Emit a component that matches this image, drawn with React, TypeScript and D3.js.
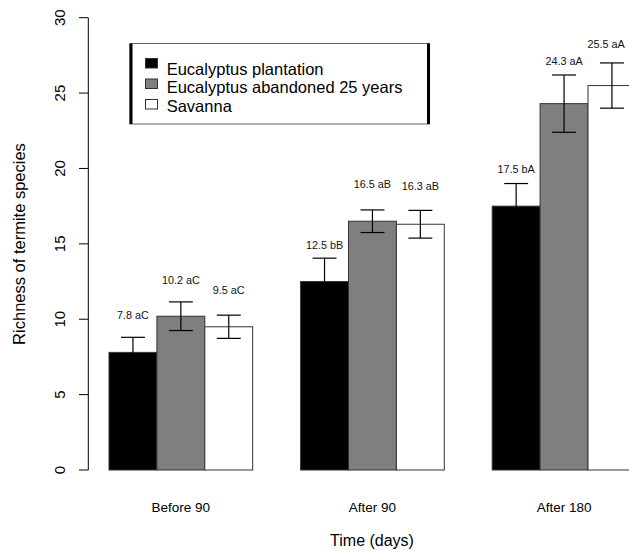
import React from "react";
import * as d3 from "d3";

const groups = ["Before 90", "After 90", "After 180"];
const series = ["Eucalyptus plantation", "Eucalyptus abandoned 25 years", "Savanna"];
const fills = ["#000000", "#7f7f7f", "#ffffff"];

// means per series across groups
const plantation = [7.8, 12.5, 17.5];
const abandoned = [10.2, 16.5, 24.3];
const savanna = [9.5, 16.3, 25.5];

// standard errors
const plantationSE = [1.0, 1.55, 1.5];
const abandonedSE = [0.95, 0.75, 1.9];
const savannaSE = [0.77, 0.92, 1.5];

// significance letters
const plantationLetters = ["aC", "bB", "bA"];
const abandonedLetters = ["aC", "aB", "aA"];
const savannaLetters = ["aC", "aB", "aA"];

// label heights (data units)
const plantationLabelAt = [10.02, 14.67, 19.7];
const abandonedLabelAt = [12.34, 18.69, 26.87];
const savannaLabelAt = [11.68, 18.54, 27.98];

const yTicks = [0, 5, 10, 15, 20, 25, 30];

const means = [plantation, abandoned, savanna];
const ses = [plantationSE, abandonedSE, savannaSE];
const letters = [plantationLetters, abandonedLetters, savannaLetters];
const labelAt = [plantationLabelAt, abandonedLabelAt, savannaLabelAt];

const FONT = "'Liberation Sans', Arial, Helvetica, sans-serif";

export default function App() {
  const W = 629;
  const H = 551;
  const y = d3.scaleLinear().domain([0, 30]).range([470, 17.7]);
  const x = d3
    .scaleBand<string>()
    .domain(groups)
    .range([109, 109 + 3 * 191.6 - 47.9])
    .paddingInner(0.25)
    .paddingOuter(0);
  const xi = d3
    .scaleBand<string>()
    .domain(series)
    .range([0, x.bandwidth()]);
  const bw = xi.bandwidth();
  const axisX = 88.3;
  const labFs = 10.8;

  const bars: any[] = [];
  groups.forEach((g, gi) => {
    series.forEach((s, si) => {
      bars.push({
        g,
        s,
        si,
        v: means[si][gi],
        se: ses[si][gi],
        lab: `${means[si][gi].toFixed(1)} ${letters[si][gi]}`,
        labY: labelAt[si][gi],
      });
    });
  });

  const legX = 130;
  const legY = 43.5;
  const legW = 299.5;
  const legH = 80.5;

  return (
    <svg
      width={W}
      height={H}
      style={{ position: "absolute", left: 0, top: 0, background: "#fff" }}
      fontFamily={FONT}
    >
      <rect x={0} y={0} width={W} height={H} fill="#fff" />
      {/* bars */}
      {bars.map((b, i) => {
        const x0 = (x(b.g) as number) + (xi(b.s) as number);
        return (
          <rect
            key={"b" + i}
            x={x0}
            y={y(b.v)}
            width={bw}
            height={y(0) - y(b.v)}
            fill={fills[b.si]}
            stroke="#333"
            strokeWidth={1}
          />
        );
      })}
      {/* error bars */}
      {bars.map((b, i) => {
        const cx = (x(b.g) as number) + (xi(b.s) as number) + bw / 2;
        const hw = bw / 4;
        const yt = y(b.v + b.se);
        const yb = y(b.v - b.se);
        return (
          <g key={"e" + i} stroke="#000" strokeWidth={1.2} fill="none">
            <line x1={cx} x2={cx} y1={yt} y2={yb} />
            <line x1={cx - hw} x2={cx + hw} y1={yt} y2={yt} />
            <line x1={cx - hw} x2={cx + hw} y1={yb} y2={yb} />
          </g>
        );
      })}
      {/* value labels */}
      {bars.map((b, i) => {
        const cx = (x(b.g) as number) + (xi(b.s) as number) + bw / 2;
        const half = (b.lab.length * 0.5 * labFs) / 2;
        const lx = Math.min(cx, W - 4 - half);
        return (
          <text
            key={"l" + i}
            x={lx}
            y={y(b.labY)}
            textAnchor="middle"
            fontSize={labFs}
            fill="#111"
          >
            {b.lab}
          </text>
        );
      })}
      {/* y axis */}
      <line x1={axisX} x2={axisX} y1={y(30)} y2={y(0)} stroke="#000" strokeWidth={1} />
      {yTicks.map((t) => (
        <g key={"t" + t}>
          <line x1={79} x2={axisX} y1={y(t)} y2={y(t)} stroke="#000" strokeWidth={1} />
          <text
            transform={`translate(65,${y(t)}) rotate(-90)`}
            textAnchor="middle"
            fontSize={15}
            fill="#000"
          >
            {t}
          </text>
        </g>
      ))}
      <text
        transform={`translate(25,244) rotate(-90)`}
        textAnchor="middle"
        fontSize={16.5}
        fill="#000"
      >
        Richness of termite species
      </text>
      {/* x labels */}
      {groups.map((g) => (
        <text
          key={"x" + g}
          x={(x(g) as number) + x.bandwidth() / 2}
          y={512}
          textAnchor="middle"
          fontSize={13.5}
          fill="#000"
        >
          {g}
        </text>
      ))}
      <text x={372} y={546} textAnchor="middle" fontSize={16} fill="#000">
        Time (days)
      </text>
      {/* legend */}
      <rect x={legX} y={legY} width={legW} height={legH} fill="#fff" stroke="#666" strokeWidth={1} />
      <line x1={legX + 1} x2={legX + 1} y1={legY} y2={legY + legH} stroke="#000" strokeWidth={3} />
      <line x1={legX + legW - 1} x2={legX + legW - 1} y1={legY} y2={legY + legH} stroke="#000" strokeWidth={3} />
      {series.map((s, i) => (
        <g key={"lg" + i}>
          <rect
            x={145.5}
            y={58.5 + i * 20.5}
            width={12}
            height={9.5}
            fill={fills[i]}
            stroke="#333"
            strokeWidth={1}
          />
          <text x={166.7} y={74.5 + i * 18.5} fontSize={16.5} fill="#000">
            {s}
          </text>
        </g>
      ))}
    </svg>
  );
}
